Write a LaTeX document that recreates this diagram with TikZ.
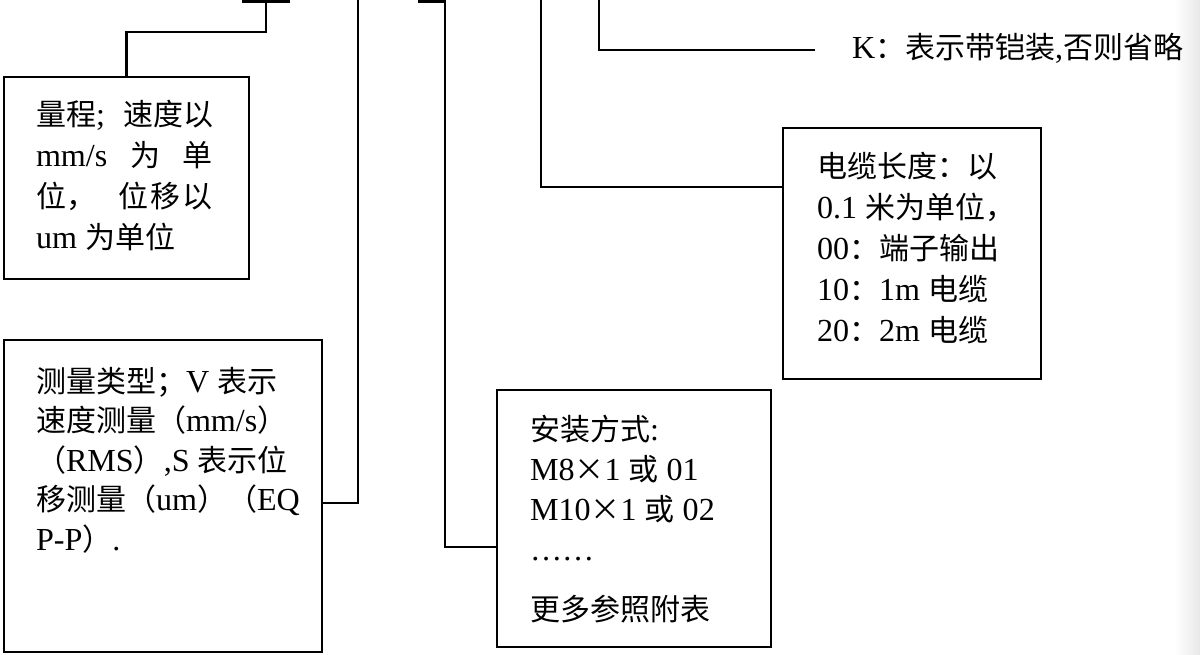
\documentclass[tikz,border=0pt]{standalone}
\usepackage{fontspec}
\setmainfont{Liberation Serif}[Scale=1.07]
\newfontfamily\zhfont{Noto Sans CJK SC}
\newcommand\ZH[1]{{\zhfont #1}}
\tikzset{
  conn/.style={line width=2.3pt},
  boxnode/.style={draw, line width=2.3pt, anchor=north west, inner sep=0pt, outer sep=0pt},
  txt/.style={anchor=base west, inner sep=0pt, outer sep=0pt, font=\fontsize{30}{40.5}\selectfont},
}
\begin{document}
\begin{tikzpicture}[x=1pt,y=-1pt]
\useasboundingbox (0,0) rectangle (1200,654);
\shade[left color=white, right color=black!9] (1174,0) rectangle (1200,654);

% boxes
\node[boxnode, minimum width=245pt, minimum height=202pt] (b1) at (4,77) {};
\node[boxnode, minimum width=318pt, minimum height=312pt] (b2) at (4,340) {};
\node[boxnode, minimum width=274pt, minimum height=257pt] (b3) at (497,390) {};
\node[boxnode, minimum width=258pt, minimum height=251pt] (b4) at (783,128) {};

% texts
\node[txt] (t1) at (36,125) {\begin{minipage}[t]{300pt}\fontsize{30}{41}\selectfont
\makebox[177pt][s]{\ZH{量程}; \ZH{速度以}}\\
\makebox[177pt][s]{mm/s \ZH{为} \ZH{单}}\\
\makebox[177pt][s]{\ZH{位，}\hspace{6pt plus 20pt}\ZH{位}\hspace{0pt plus 3pt}\ZH{移}\hspace{0pt plus 3pt}\ZH{以}}\\
um \ZH{为单位}\end{minipage}};

\node[txt] (t2) at (36,392) {\begin{minipage}[t]{300pt}\fontsize{30}{39.5}\selectfont
\ZH{测量类型；}V \ZH{表示}\\
\ZH{速度测量（}mm/s\ZH{）}\\
\ZH{（}RMS\ZH{）},S \ZH{表示位}\\
\ZH{移测量（}um\ZH{）（}EQ\\
P-P\ZH{）}.\end{minipage}};

\node[txt] (t3) at (530,440) {\begin{minipage}[t]{300pt}\fontsize{30}{40}\selectfont
\ZH{安装方式}:\\
M8\ZH{×}1 \ZH{或} 01\\
M10\ZH{×}1 \ZH{或} 02\\
……\\[20pt]
\ZH{更多参照附表}\end{minipage}};

\node[txt] (t4) at (817,177) {\begin{minipage}[t]{300pt}\fontsize{30}{41}\selectfont
\ZH{电缆长度：以}\\
0.1 \ZH{米为单位，}\\
00\ZH{：端子输出}\\
10\ZH{：}1m \ZH{电缆}\\
20\ZH{：}2m \ZH{电缆}\end{minipage}};

\node[txt] (kt) at (852,58) {K\ZH{：表示带铠装},\ZH{否则省略}};

% connector ends at top
\coordinate (bar1a) at (242,1.5);
\coordinate (bar1b) at (290,1.5);
\coordinate (top1) at (266,1.5);
\coordinate (top2) at (358,0);
\coordinate (top3) at (418,1.5);
\coordinate (k3) at (445,1.5);
\coordinate (top4) at (541,0);
\coordinate (top5) at (599,0);
\coordinate (k5) at (815,50);

\draw[conn] (bar1a) -- (bar1b);
\draw[conn] (b1.north) -- ++(0,-45) -| (top1);
\draw[conn] (top2) |- ([yshift=-7pt]b2.east);
\draw[conn] (top3) -- (k3) |- ([yshift=-28.5pt]b3.west);
\draw[conn] (top4) |- ([yshift=66.5pt]b4.west);
\draw[conn] (top5) |- (k5);
\end{tikzpicture}
\end{document}
